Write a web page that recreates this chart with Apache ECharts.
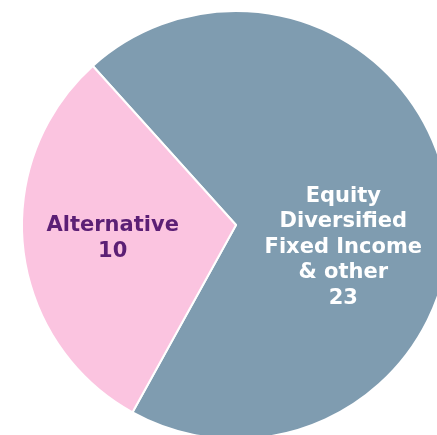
<!DOCTYPE html>
<html>
<head>
<meta charset="utf-8">
<script src="https://cdn.jsdelivr.net/npm/echarts@6/dist/echarts.min.js"></script>
<style>html,body{margin:0;padding:0;background:#fff}#c{width:437px;height:435px}</style>
</head>
<body>
<div id="c"></div>
<script>
const categories = ['Equity\nDiversified\nFixed Income\n& other', 'Alternative'];
const values = [23, 10];
const colors = ['#7F9CB0', '#FBC4E0'];
const labelColors = ['#ffffff', '#5B1F75'];

const chart = echarts.init(document.getElementById('c'), null, {renderer: 'canvas'});
chart.setOption({
  animation: false,
  series: [{
    type: 'pie',
    center: [236, 225],
    radius: [0, 214],
    startAngle: 132,
    clockwise: true,
    data: categories.map((c, i) => ({
      name: c, value: values[i],
      itemStyle: {color: colors[i]},
      label: {color: labelColors[i]}
    })),
    itemStyle: {borderColor: '#ffffff', borderWidth: 2},
    label: {
      show: true,
      position: 'inside',
      formatter: '{b}\n{c}',
      fontFamily: "'DejaVu Sans', Verdana, sans-serif",
      fontWeight: 'bold',
      fontSize: 21,
      lineHeight: 25.5,
      align: 'center'
    },
    labelLine: {show: false},
    labelLayout: function (p) {
      return p.dataIndex === 0 ? {dx: -2, dy: 35} : {dx: -14, dy: 1};
    },
    emphasis: {disabled: true}
  }]
});
</script>
</body>
</html>
